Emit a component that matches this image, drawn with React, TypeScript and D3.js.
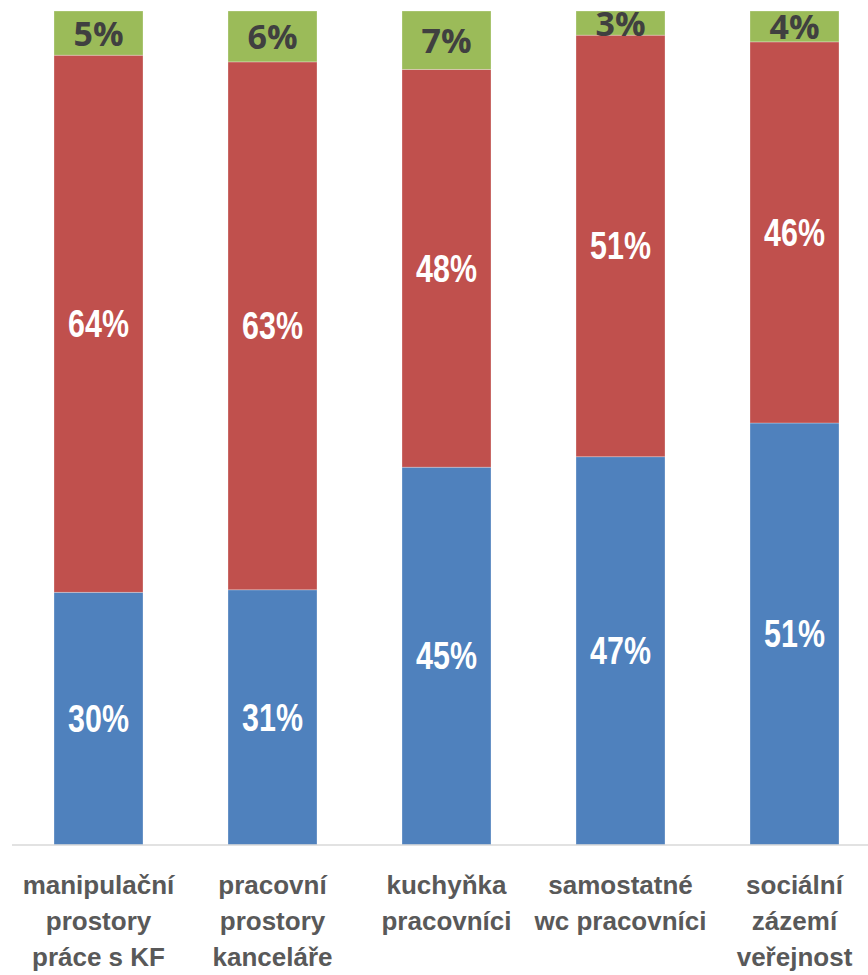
import { useEffect, useRef } from "react";
import * as d3 from "d3";

// categories (line-broken as in the source chart)
const categories = [
  ["manipulační", "prostory", "práce s KF"],
  ["pracovní", "prostory", "kanceláře"],
  ["kuchyňka", "pracovníci"],
  ["samostatné", "wc pracovníci"],
  ["sociální", "zázemí", "veřejnost"],
];

// series values in percent
const blueValues = [30.3, 30.6, 45.3, 46.6, 50.6];
const redValues = [64.4, 63.3, 47.7, 50.6, 45.7];
const greenValues = [5.3, 6.1, 7.0, 2.9, 3.7];

const seriesKeys = ["blue", "red", "green"];
const seriesColors: Record<string, string> = {
  blue: "#4f81bd",
  red: "#c0504d",
  green: "#9bbb59",
};
const labelColors: Record<string, string> = {
  blue: "#ffffff",
  red: "#ffffff",
  green: "#404040",
};

const W = 868;
const H = 975;

export default function App() {
  const svgRef = useRef<SVGSVGElement>(null);

  useEffect(() => {
    if (!svgRef.current) return;
    const svg = d3.select(svgRef.current);
    svg.selectAll("*").remove();

    const rows = categories.map((c, i) => ({
      idx: i,
      blue: blueValues[i],
      red: redValues[i],
      green: greenValues[i],
    }));

    const stack = d3
      .stack<any>()
      .keys(seriesKeys)
      .offset(d3.stackOffsetExpand);
    const stacked = stack(rows);

    const baseline = 845;
    const top = 11;

    const x = d3
      .scaleBand<number>()
      .domain(rows.map((r) => r.idx))
      .range([11.5, 881.5])
      .paddingInner(0.4885)
      .paddingOuter(0.24425);

    const y = d3.scaleLinear().domain([0, 1]).range([baseline, top]);

    // bars
    const layers = svg
      .selectAll(".layer")
      .data(stacked)
      .enter()
      .append("g")
      .attr("class", "layer")
      .attr("fill", (d) => seriesColors[d.key]);

    layers
      .selectAll("rect")
      .data((d) => d)
      .enter()
      .append("rect")
      .attr("x", (d) => x(d.data.idx)!)
      .attr("width", x.bandwidth())
      .attr("y", (d) => y(d[1]))
      .attr("height", (d) => y(d[0]) - y(d[1]))
      .attr("stroke", "rgba(255,255,255,0.35)")
      .attr("stroke-width", 0.8);

    // value labels (narrow look for blue/red: condensed horizontally)
    stacked.forEach((layer) => {
      const key = layer.key;
      const isGreen = key === "green";
      svg
        .append("g")
        .selectAll("text")
        .data(layer)
        .enter()
        .append("text")
        .attr("transform", (d) => {
          const cx = x(d.data.idx)! + x.bandwidth() / 2;
          const cy = (y(d[0]) + y(d[1])) / 2;
          return isGreen ? `translate(${cx},${cy})` : `translate(${cx},${cy}) scale(0.8,1)`;
        })
        .attr("text-anchor", "middle")
        .attr("dominant-baseline", "central")
        .style("font-family", isGreen ? "'Open Sans', sans-serif" : "'Liberation Sans', Arial, sans-serif")
        .style("font-weight", "bold")
        .style("font-size", isGreen ? "34px" : "38px")
        .attr("fill", labelColors[key])
        .text((d) => `${Math.round((d.data as any)[key])}%`);
    });

    // baseline
    svg
      .append("line")
      .attr("x1", 12)
      .attr("x2", W)
      .attr("y1", baseline)
      .attr("y2", baseline)
      .attr("stroke", "#d9d9d9")
      .attr("stroke-width", 1.5);

    // category labels
    const cat = svg
      .append("g")
      .selectAll("text")
      .data(categories)
      .enter()
      .append("text")
      .attr("text-anchor", "middle")
      .attr("fill", "#595959")
      .style("font-family", "'Liberation Sans', Arial, sans-serif")
      .style("font-weight", "bold")
      .style("font-size", "26px");

    cat
      .selectAll("tspan")
      .data((d, i) => d.map((line) => ({ line, i })))
      .enter()
      .append("tspan")
      .attr("x", (d) => x(d.i)! + x.bandwidth() / 2)
      .attr("y", (d, j) => 894 + j * 36)
      .text((d) => d.line);
  }, []);

  return (
    <div style={{ position: "absolute", left: 0, top: 0, width: W, height: H, background: "#fff" }}>
      <svg ref={svgRef} width={W} height={H} style={{ display: "block" }} />
    </div>
  );
}
